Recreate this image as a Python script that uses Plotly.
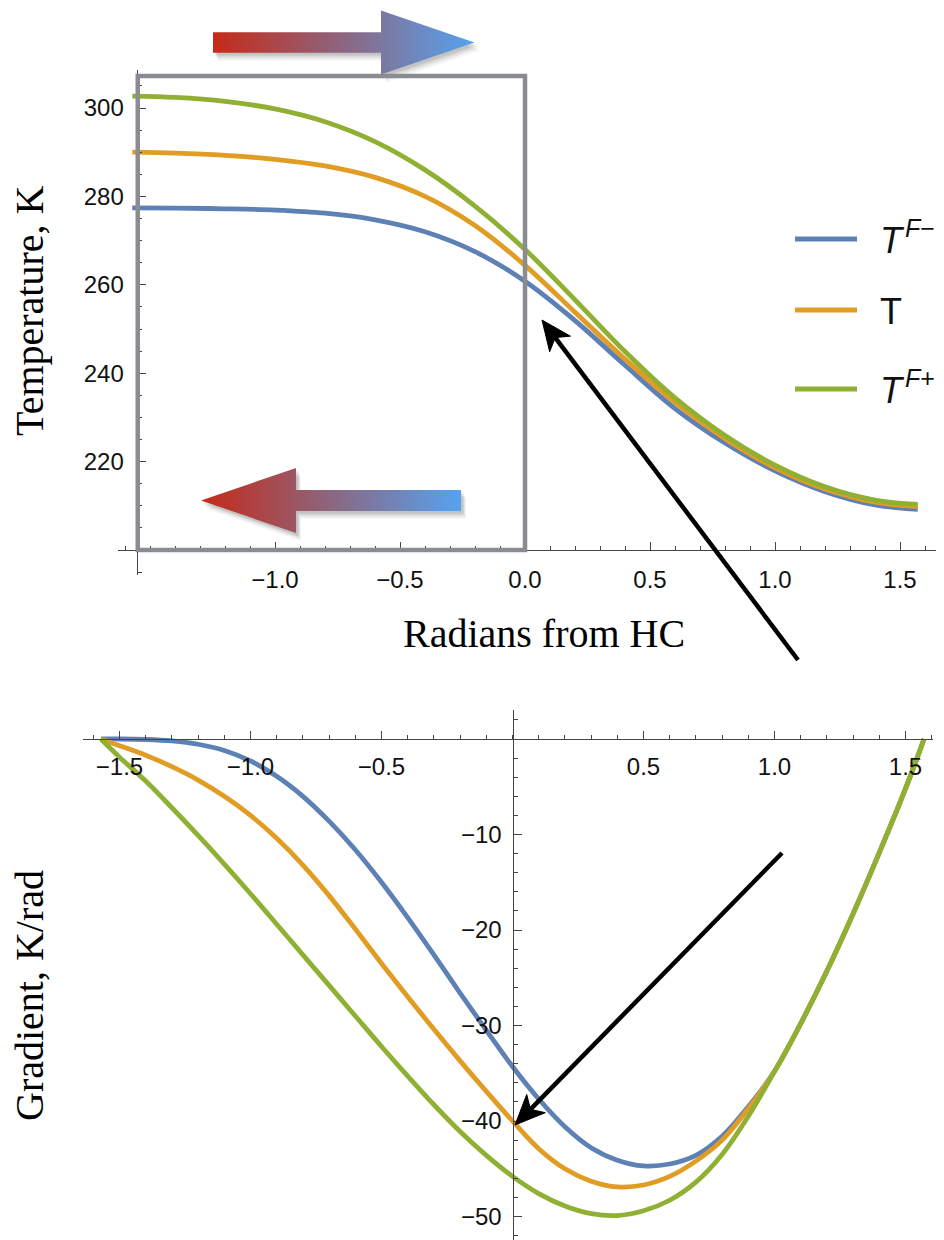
import math
import plotly.graph_objects as go

# ---------------- data ----------------
series_names = ["T F−", "T", "T F+"]
legend_main = ["<i>T</i>", "T", "<i>T</i>"]
legend_sup = ["<i>F</i>−", "", "<i>F</i>+"]
series_colors = ["#5E81B5", "#E19C24", "#8FB032"]

temp_rad = [-1.5708, -1.4, -1.2, -1.0, -0.8, -0.6, -0.4, -0.2, 0.0,
            0.2, 0.4, 0.6, 0.8, 1.0, 1.2, 1.4, 1.5708]
temp_fminus = [277.4, 277.35, 277.2, 276.9, 276.2, 274.7, 272.0, 267.5, 260.8,
               251.9, 241.8, 232.0, 224.2, 217.9, 213.2, 210.2, 209.2]
temp_t = [290.0, 289.8, 289.3, 288.4, 286.9, 284.3, 280.0, 273.4, 264.4,
          253.8, 243.2, 233.4, 225.2, 218.6, 213.8, 210.8, 209.8]
temp_fplus = [302.7, 302.4, 301.5, 299.8, 296.9, 292.4, 286.0, 277.8, 268.0,
              256.6, 244.9, 234.4, 225.9, 219.2, 214.3, 211.3, 210.3]

grad_rad = [-1.5708, -1.5, -1.4, -1.3, -1.2, -1.1, -1.0, -0.9, -0.8, -0.7, -0.6,
            -0.5, -0.4, -0.3, -0.2, -0.1, 0.0, 0.1, 0.2, 0.3, 0.4, 0.5, 0.6,
            0.7, 0.8, 0.9, 1.0, 1.1, 1.2, 1.3, 1.4, 1.5, 1.5708]
grad_fminus = [0.0, 0.0, -0.05, -0.2, -0.55, -1.2, -2.3, -3.9, -6.0, -8.6, -11.6,
               -15.0, -18.7, -22.6, -26.6, -30.5, -34.3, -37.7, -40.6, -42.8, -44.1, -44.7, -44.5,
               -43.6, -41.6, -38.5, -34.8, -29.8, -24.3, -18.3, -11.9, -5.2, 0.0]
grad_t = [0.0, -0.7, -1.7, -2.9, -4.3, -6.0, -8.0, -10.4, -13.2, -16.4, -19.9,
          -23.5, -27.0, -30.4, -33.7, -36.9, -40.0, -42.9, -45.0, -46.3, -46.9, -46.7, -45.8,
          -44.2, -42.0, -38.7, -34.8, -29.8, -24.3, -18.3, -11.9, -5.2, 0.0]
grad_fplus = [0.0, -1.9, -4.4, -7.2, -10.1, -13.1, -16.2, -19.4, -22.6, -25.8, -29.0,
              -32.2, -35.3, -38.3, -41.1, -43.6, -45.8, -47.6, -48.9, -49.7, -49.9, -49.4, -48.3,
              -46.4, -43.5, -39.5, -34.8, -29.8, -24.3, -18.3, -11.9, -5.2, 0.0]

top_xtick_vals = [-1.0, -0.5, 0.0, 0.5, 1.0, 1.5]
top_xtick_text = ["−1.0", "−0.5", "0.0", "0.5", "1.0", "1.5"]
top_ytick_vals = [220, 240, 260, 280, 300]
top_ytick_text = ["220", "240", "260", "280", "300"]
bot_xtick_vals = [-1.5, -1.0, -0.5, 0.5, 1.0, 1.5]
bot_xtick_text = ["−1.5", "−1.0", "−0.5", "0.5", "1.0", "1.5"]
bot_ytick_vals = [-50, -40, -30, -20, -10]
bot_ytick_text = ["−50", "−40", "−30", "−20", "−10"]

# ---------------- layout geometry (pixels) ----------------
W, H = 944, 1240
# top panel: 250 px per radian, x=0 at px 525 ; 4.42 px per K, 200 K at py 550
T_XPX, T_X0, T_XS = (118, 936), 525, 250.0
T_YPX, T_Y0, T_YS = (70.4, 575.2), 550, 4.42
# bottom panel: 262 px per radian, x=0 at px 512.5 ; 9.55 px per unit, 0 at py 739
B_XPX, B_X0, B_XS = (83, 933), 512.5, 262.0
B_YPX, B_Y0, B_YS = (710, 1240), 739, 9.55


def xr(pxs, x0, s):
    return [(pxs[0] - x0) / s, (pxs[1] - x0) / s]


def yr(pys, y0, s, base):
    return [base + (y0 - pys[1]) / s, base + (y0 - pys[0]) / s]


def pdx(px):
    return px / W


def pdy(py):
    return 1 - py / H


fig = go.Figure()

for name, col, ys in zip(series_names, series_colors, [temp_fminus, temp_t, temp_fplus]):
    fig.add_trace(go.Scatter(x=temp_rad, y=ys, mode="lines", name=name,
                             line=dict(color=col, width=4.8, shape="spline", smoothing=1.0),
                             xaxis="x", yaxis="y", showlegend=False))
for name, col, ys in zip(series_names, series_colors, [grad_fminus, grad_t, grad_fplus]):
    fig.add_trace(go.Scatter(x=grad_rad, y=ys, mode="lines", name=name,
                             line=dict(color=col, width=4.8, shape="spline", smoothing=1.0),
                             xaxis="x2", yaxis="y2", showlegend=False))


# ---------------- decorative gradient arrows (pixel overlay axis) ----------------
def arrow_poly(x_tail, x_base, x_tip, yc, half_shaft, half_head):
    xs = [x_tail, x_base, x_base, x_tip, x_base, x_base, x_tail, x_tail]
    ys = [yc - half_shaft, yc - half_shaft, yc - half_head, yc, yc + half_head,
          yc + half_shaft, yc + half_shaft, yc - half_shaft]
    return xs, ys


arrows = [
    dict(tail=213, base=381, tip=474.5, yc=42.5, hs=10.3, hh=32.0),
    dict(tail=461, base=296, tip=201, yc=500.5, hs=10.5, hh=32.5),
]
for a in arrows:
    xs, ys = arrow_poly(a["tail"], a["base"], a["tip"], a["yc"], a["hs"], a["hh"])
    for (dx, dy, op) in [(5, 8, 0.06), (4, 6, 0.08), (3, 4, 0.10), (2, 2.5, 0.10)]:
        fig.add_trace(go.Scatter(x=[v + dx for v in xs], y=[v + dy for v in ys],
                                 fill="toself", mode="none",
                                 fillcolor=f"rgba(60,60,60,{op})",
                                 xaxis="x3", yaxis="y3", hoverinfo="skip", showlegend=False))
    fig.add_trace(go.Scatter(x=xs, y=ys, fill="toself", mode="none",
                             fillgradient=dict(type="horizontal",
                                               colorscale=[[0, "#C62A18"], [0.5, "#8C6680"],
                                                           [1, "#55A3F0"]]),
                             xaxis="x3", yaxis="y3", hoverinfo="skip", showlegend=False))

axis_common = dict(showline=True, linecolor="#444444", linewidth=1.2, ticks="inside",
                   ticklen=8, tickwidth=1.2, tickcolor="#444444", showgrid=False,
                   zeroline=False, tickmode="array",
                   tickfont=dict(family="Liberation Sans, Arial", size=24, color="#111111"))


def minor(dt):
    return dict(tickmode="linear", tick0=0, dtick=dt, ticks="inside", ticklen=4,
                tickwidth=1, tickcolor="#444444", showgrid=False)


fig.update_layout(
    width=W, height=H, autosize=False,
    margin=dict(l=0, r=0, t=0, b=0),
    paper_bgcolor="white", plot_bgcolor="rgba(0,0,0,0)",
    showlegend=False,
    xaxis=dict(axis_common, domain=[pdx(T_XPX[0]), pdx(T_XPX[1])],
               range=xr(T_XPX, T_X0, T_XS), anchor="free", position=pdy(550),
               tickvals=top_xtick_vals, ticktext=top_xtick_text, minor=minor(0.1),
               ticklabelstandoff=8),
    yaxis=dict(axis_common, domain=[pdy(T_YPX[1]), pdy(T_YPX[0])],
               range=yr(T_YPX, T_Y0, T_YS, 200), anchor="free", position=pdx(136.7),
               tickvals=top_ytick_vals, ticktext=top_ytick_text, minor=minor(5),
               ticklabelstandoff=8),
    xaxis2=dict(axis_common, domain=[pdx(B_XPX[0]), pdx(B_XPX[1])],
                range=xr(B_XPX, B_X0, B_XS), anchor="free", position=pdy(B_Y0),
                tickvals=bot_xtick_vals, ticktext=bot_xtick_text, minor=minor(0.1),
                ticklabelstandoff=6),
    yaxis2=dict(axis_common, domain=[pdy(B_YPX[1]), pdy(B_YPX[0])],
                range=yr(B_YPX, B_Y0, B_YS, 0), anchor="free", position=pdx(B_X0),
                tickvals=bot_ytick_vals, ticktext=bot_ytick_text, minor=minor(2),
                ticklabelstandoff=6),
    xaxis3=dict(domain=[0, 1], range=[0, W], visible=False, anchor="y3", fixedrange=True),
    yaxis3=dict(domain=[0, 1], range=[H, 0], visible=False, anchor="x3", fixedrange=True),
)

# gray box over the left half of the temperature panel
fig.add_shape(type="rect", xref="x", yref="y", x0=-1.549, x1=0.0, y0=200,
              y1=200 + (550 - 76) / T_YS, line=dict(color="#898C90", width=4.5),
              fillcolor="rgba(0,0,0,0)", layer="above")

# manual legend (line sample + label with raised superscript)
legend_y = [239, 310, 389]
sans = "Liberation Sans, Arial"
for main, sup, col, ly in zip(legend_main, legend_sup, series_colors, legend_y):
    fig.add_shape(type="line", xref="x3", yref="y3", x0=795, x1=857, y0=ly, y1=ly,
                  line=dict(color=col, width=5), layer="above")
    fig.add_annotation(xref="x3", yref="y3", x=878, y=ly + 1, text=main, showarrow=False,
                       xanchor="left", yanchor="middle",
                       font=dict(family=sans, size=36, color="#111111"))
    if sup:
        fig.add_annotation(xref="x3", yref="y3", x=903, y=ly - 11, text=sup, showarrow=False,
                           xanchor="left", yanchor="middle",
                           font=dict(family=sans, size=25, color="#111111"))

serif = dict(family="Liberation Serif, Times New Roman", size=40, color="black")
fig.add_annotation(xref="x3", yref="y3", x=29, y=311, text="Temperature, K", textangle=-90,
                   showarrow=False, font=serif)
fig.add_annotation(xref="x3", yref="y3", x=29, y=996, text="Gradient, K/rad", textangle=-90,
                   showarrow=False, font=serif)
fig.add_annotation(xref="x3", yref="y3", x=543.5, y=633, text="Radians from HC",
                   showarrow=False, font=serif)


# black pointer arrows drawn as shapes (shaft + notched head)
def pointer(tip, tail, head_len=30, half_w=13, notch=8, width=4.5):
    dx, dy = tip[0] - tail[0], tip[1] - tail[1]
    d = math.hypot(dx, dy)
    ux, uy = dx / d, dy / d
    nx, ny = -uy, ux
    bx, by = tip[0] - head_len * ux, tip[1] - head_len * uy
    mx, my = tip[0] - (head_len - notch) * ux, tip[1] - (head_len - notch) * uy
    fig.add_shape(type="line", xref="x3", yref="y3", x0=tail[0], y0=tail[1], x1=mx, y1=my,
                  line=dict(color="black", width=width), layer="above")
    path = (f"M{tip[0]},{tip[1]} L{bx + half_w * nx},{by + half_w * ny} "
            f"L{mx},{my} L{bx - half_w * nx},{by - half_w * ny} Z")
    fig.add_shape(type="path", xref="x3", yref="y3", path=path, fillcolor="black",
                  line=dict(color="black", width=1), layer="above")


pointer((542, 320), (798, 660))
pointer((515, 1125), (782, 853))

fig.write_html("out.html")
